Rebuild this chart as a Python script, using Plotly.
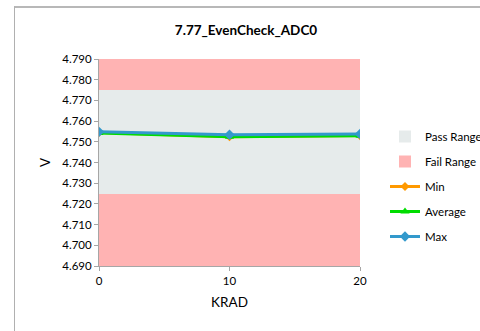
import plotly.graph_objects as go

krad = [0, 10, 20]
min_v = [4.7545, 4.7525, 4.7530]
avg_v = [4.7543, 4.7524, 4.7529]
max_v = [4.7548, 4.7534, 4.7538]
pass_lo, pass_hi = 4.725, 4.775
y_lo, y_hi = 4.690, 4.790
y_ticks = [4.690, 4.700, 4.710, 4.720, 4.730, 4.740, 4.750, 4.760, 4.770, 4.780, 4.790]
x_ticks = [0, 10, 20]

FONT = "Lato, 'Open Sans', Arial, sans-serif"
mid = (krad[0] + krad[-1]) / 2
span = krad[-1] - krad[0]

fig = go.Figure()
fig.add_trace(go.Bar(x=[mid], y=[pass_hi - pass_lo], base=[pass_lo], width=[span],
                     marker=dict(color="#E6EBEB", line=dict(width=0)), name="Pass Range",
                     legendgroup="a", hoverinfo="skip"))
fig.add_trace(go.Bar(x=[mid, mid], y=[pass_lo - y_lo, y_hi - pass_hi], base=[y_lo, pass_hi],
                     width=[span, span], marker=dict(color="#FFB3B3", line=dict(width=0)),
                     name="Fail Range", legendgroup="b", hoverinfo="skip"))
fig.add_trace(go.Scatter(x=krad, y=min_v, mode="lines+markers", name="Min", legendgroup="c",
                         line=dict(color="#FF9900", width=3),
                         marker=dict(symbol="diamond", size=7, color="#FF9900")))
fig.add_trace(go.Scatter(x=krad, y=avg_v, mode="lines+markers", name="Average", legendgroup="d",
                         line=dict(color="#00DD00", width=3),
                         marker=dict(symbol="triangle-up", size=8, color="#00DD00")))
fig.add_trace(go.Scatter(x=krad, y=max_v, mode="lines+markers", name="Max", legendgroup="e",
                         line=dict(color="#3399CC", width=3),
                         marker=dict(symbol="diamond", size=8, color="#3399CC")))

PL, PT, PW, PH = 99, 59, 261, 207
def px(v):
    return (v - PL) / PW
def py(v):
    return (PT + PH - v) / PH

fig.update_layout(
    width=480, height=331,
    margin=dict(l=PL, r=480 - PL - PW, t=PT, b=331 - PT - PH, autoexpand=False),
    paper_bgcolor="white", plot_bgcolor="white",
    barmode="overlay", bargap=0,
    font=dict(family=FONT, size=11.5, color="#000000"),
    title=dict(text="<b>7.77_EvenCheck_ADC0</b>", x=246/480, xanchor="center",
               y=1 - 30/331, yanchor="middle", font=dict(size=13.5, family=FONT)),
    showlegend=True,
    legend=dict(x=px(385), xanchor="left", y=py(122), yanchor="top",
                tracegroupgap=6, traceorder="grouped", font=dict(size=11.5),
                bgcolor="rgba(0,0,0,0)", itemwidth=30),
    xaxis=dict(range=[krad[0], krad[-1]], tickvals=x_ticks, showgrid=False, zeroline=False,
               showline=True, linecolor="#A6A6A6", ticks="outside", tickcolor="#A6A6A6",
               ticklen=4, title=dict(text="KRAD", font=dict(size=13.5), standoff=11)),
    yaxis=dict(range=[y_lo, y_hi], tickvals=y_ticks, tickformat=".3f", showgrid=False,
               zeroline=False, showline=True, linecolor="#A6A6A6", ticks="outside",
               tickcolor="#A6A6A6", ticklen=4,
               title=dict(text="V", font=dict(size=13.5), standoff=8)),
    shapes=[
        dict(type="line", xref="paper", yref="paper", x0=px(14), x1=px(480), y0=py(7), y1=py(7),
             line=dict(color="#A0A0A0", width=1.5), layer="above"),
        dict(type="line", xref="paper", yref="paper", x0=px(14.5), x1=px(14.5), y0=py(6.5), y1=py(331),
             line=dict(color="#B0B0B0", width=1), layer="above"),
    ],
)

fig.write_html("out.html", config={"displayModeBar": False},
               post_script="document.body.style.margin='0';")
